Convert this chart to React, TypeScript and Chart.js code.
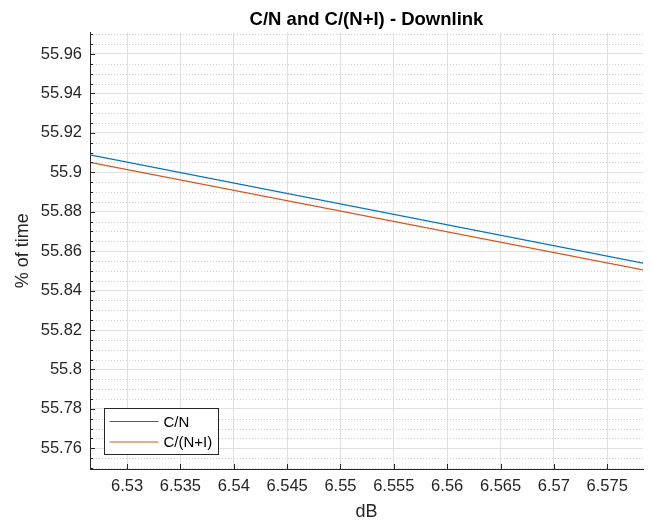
import React, { useEffect, useRef } from "react";
import { Chart, registerables } from "chart.js";

Chart.register(...registerables);

// ---- data ----
const TITLE = "C/N and C/(N+I) - Downlink";
const X_LABEL = "dB";
const Y_LABEL = "% of time";
const SERIES_NAMES = ["C/N", "C/(N+I)"];
const xValues = [6.5265, 6.5784];
const cnValues = [55.9089, 55.8539];
const cniValues = [55.9051, 55.8505];
const xTicks = [6.53, 6.535, 6.54, 6.545, 6.55, 6.555, 6.56, 6.565, 6.57, 6.575];
const yTicks = [55.76, 55.78, 55.8, 55.82, 55.84, 55.86, 55.88, 55.9, 55.92, 55.94, 55.96];
const xRange = [6.52653, 6.57835];
const yRange = [55.7495, 55.9709];
const Y_MINOR_STEP = 0.005;

const COLORS = ["#0072BD", "#D95319"];
const AXIS_COLOR = "#262626";
const FONT = "'Liberation Sans', Arial, Helvetica, sans-serif";

const fmt = (v: number) => String(+v.toFixed(4));

const decorPlugin = {
  id: "matlabDecor",
  beforeDatasetsDraw(chart: any) {
    const { ctx, chartArea: a, scales } = chart;
    const y = scales.y;
    ctx.save();
    ctx.beginPath();
    ctx.rect(a.left, a.top, a.right - a.left, a.bottom - a.top);
    ctx.clip();
    ctx.strokeStyle = "#cfcfcf";
    ctx.lineWidth = 1;
    ctx.setLineDash([1, 2]);
    const k0 = Math.ceil(y.min / Y_MINOR_STEP);
    const k1 = Math.floor(y.max / Y_MINOR_STEP);
    for (let k = k0; k <= k1; k++) {
      const v = k * Y_MINOR_STEP;
      if (yTicks.some((t) => Math.abs(t - v) < 1e-7)) continue;
      const py = Math.round(y.getPixelForValue(v)) + 0.5;
      ctx.beginPath();
      ctx.moveTo(a.left, py);
      ctx.lineTo(a.right, py);
      ctx.stroke();
    }
    ctx.restore();
  },
  afterDatasetsDraw(chart: any) {
    const { ctx, chartArea: a, scales } = chart;
    const { x, y } = scales;
    ctx.save();
    ctx.strokeStyle = AXIS_COLOR;
    ctx.lineWidth = 1;
    // y major ticks
    for (const t of yTicks) {
      const py = Math.round(y.getPixelForValue(t)) + 0.5;
      ctx.beginPath();
      ctx.moveTo(a.left, py);
      ctx.lineTo(a.left + 5, py);
      ctx.stroke();
    }
    // y minor ticks
    const k0 = Math.ceil(y.min / Y_MINOR_STEP);
    const k1 = Math.floor(y.max / Y_MINOR_STEP);
    for (let k = k0; k <= k1; k++) {
      const v = k * Y_MINOR_STEP;
      if (yTicks.some((t) => Math.abs(t - v) < 1e-7)) continue;
      const py = Math.round(y.getPixelForValue(v)) + 0.5;
      ctx.beginPath();
      ctx.moveTo(a.left, py);
      ctx.lineTo(a.left + 3, py);
      ctx.stroke();
    }
    // x major ticks
    for (const t of xTicks) {
      const px = Math.round(x.getPixelForValue(t)) + 0.5;
      ctx.beginPath();
      ctx.moveTo(px, a.bottom);
      ctx.lineTo(px, a.bottom - 5);
      ctx.stroke();
    }
    ctx.restore();
  },
  afterDraw(chart: any) {
    const { ctx, chartArea: a } = chart;
    ctx.save();
    // title
    ctx.fillStyle = "#000000";
    ctx.font = `bold 18.5px ${FONT}`;
    ctx.textAlign = "center";
    ctx.textBaseline = "alphabetic";
    ctx.fillText(TITLE, (a.left + a.right) / 2, 25);

    // legend
    const bx = a.left + 14.5;
    const bw = 114;
    const bh = 46;
    const by = a.bottom - 14.5 - bh;
    ctx.fillStyle = "#ffffff";
    ctx.fillRect(bx, by, bw, bh);
    ctx.strokeStyle = AXIS_COLOR;
    ctx.lineWidth = 1;
    ctx.strokeRect(bx, by, bw, bh);
    ctx.font = `15px ${FONT}`;
    ctx.textAlign = "left";
    ctx.textBaseline = "middle";
    chart.data.datasets.forEach((ds: any, i: number) => {
      const ly = by + 13 + i * 20.5;
      ctx.strokeStyle = ds.borderColor;
      ctx.lineWidth = 1;
      ctx.beginPath();
      ctx.moveTo(bx + 5, ly);
      ctx.lineTo(bx + 54, ly);
      ctx.stroke();
      ctx.fillStyle = "#000000";
      ctx.fillText(ds.label, bx + 59, ly + 1);
    });
    ctx.restore();
  },
};

export default function App() {
  const ref = useRef<HTMLCanvasElement | null>(null);

  useEffect(() => {
    if (!ref.current) return;
    const chart = new Chart(ref.current, {
      type: "line",
      data: {
        datasets: [
          {
            label: SERIES_NAMES[0],
            data: xValues.map((x, i) => ({ x, y: cnValues[i] })),
            borderColor: COLORS[0],
            backgroundColor: COLORS[0],
            borderWidth: 1.2,
            pointRadius: 0,
            tension: 0,
          },
          {
            label: SERIES_NAMES[1],
            data: xValues.map((x, i) => ({ x, y: cniValues[i] })),
            borderColor: COLORS[1],
            backgroundColor: COLORS[1],
            borderWidth: 1.2,
            pointRadius: 0,
            tension: 0,
          },
        ],
      },
      options: {
        animation: false,
        responsive: false,
        maintainAspectRatio: false,
        layout: { padding: { top: 32.5, right: 10, bottom: 0, left: 0 } },
        plugins: {
          legend: { display: false },
          title: { display: false },
          tooltip: { enabled: false },
        },
        scales: {
          x: {
            type: "linear",
            min: xRange[0],
            max: xRange[1],
            afterBuildTicks: (s: any) => {
              s.ticks = xTicks.map((value) => ({ value }));
            },
            afterFit: (s: any) => {
              s.height = 55;
            },
            ticks: {
              callback: (v: any) => fmt(Number(v)),
              color: AXIS_COLOR,
              font: { family: FONT, size: 16.5 },
              padding: 8,
              maxRotation: 0,
              autoSkip: false,
            },
            grid: { color: "#e0e0e0", drawTicks: false, lineWidth: 1 },
            border: { display: true, color: AXIS_COLOR, width: 1 },
            title: {
              display: true,
              text: X_LABEL,
              color: AXIS_COLOR,
              font: { family: FONT, size: 18 },
              padding: { top: 0, bottom: 1.5 },
            },
          },
          y: {
            type: "linear",
            min: yRange[0],
            max: yRange[1],
            afterBuildTicks: (s: any) => {
              s.ticks = yTicks.map((value) => ({ value }));
            },
            afterFit: (s: any) => {
              s.width = 90;
            },
            ticks: {
              callback: (v: any) => fmt(Number(v)),
              color: AXIS_COLOR,
              font: { family: FONT, size: 16.5 },
              padding: 8,
              autoSkip: false,
            },
            grid: { color: "#e0e0e0", drawTicks: false, lineWidth: 1 },
            border: { display: true, color: AXIS_COLOR, width: 1 },
            title: {
              display: true,
              text: Y_LABEL,
              color: AXIS_COLOR,
              font: { family: FONT, size: 18 },
              padding: { top: 12.5, bottom: 0 },
            },
          },
        },
      },
      plugins: [decorPlugin],
    });
    return () => chart.destroy();
  }, []);

  return (
    <div style={{ position: "absolute", left: 0, top: 0, width: 653, height: 524, background: "#ffffff" }}>
      <canvas ref={ref} width={653} height={524} style={{ display: "block", width: 653, height: 524 }} />
    </div>
  );
}
